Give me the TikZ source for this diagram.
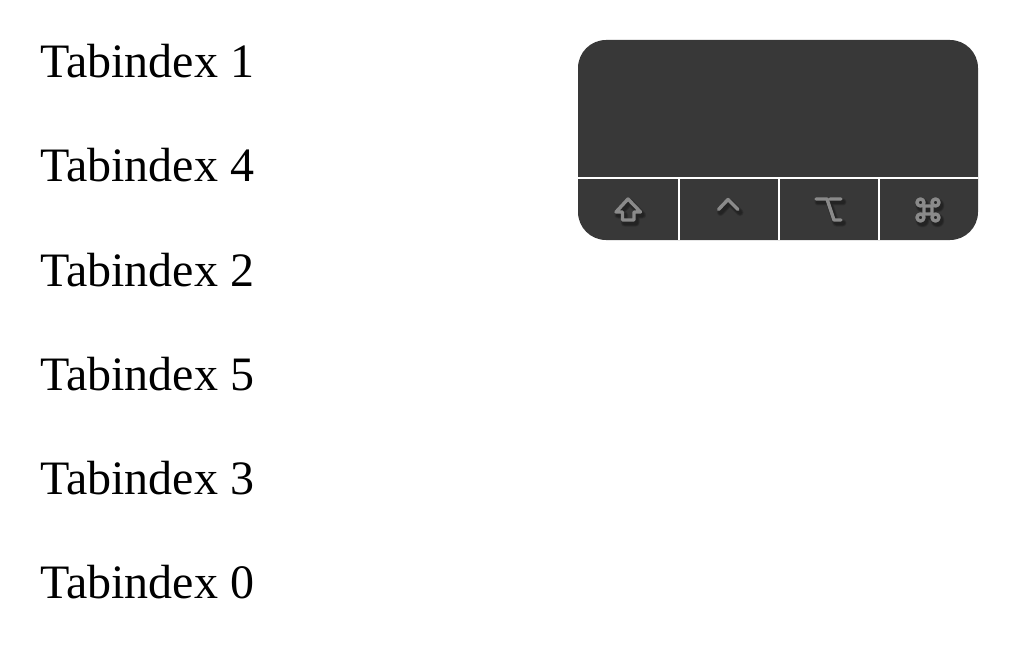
\documentclass[tikz,border=0pt]{standalone}
\usepackage{fontspec}
\setmainfont{Liberation Serif}
\definecolor{padgray}{HTML}{383838}
\definecolor{icongray}{HTML}{8A8A8A}
\tikzset{
  tablabel/.style={anchor=base west,inner sep=0pt,font=\fontsize{48pt}{52pt}\selectfont},
  icon/.style={draw=icongray,line width=3.4pt,line join=round,line cap=round},
  iconshadow/.style={draw=black,opacity=0.14,line width=#1,line join=round,line cap=round,shift={(2,3)}},
  divider/.style={draw=white,line width=2pt}
}
\begin{document}
\begin{tikzpicture}[x=1pt,y=-1pt]
  \useasboundingbox (0,0) rectangle (1018,666);
  \def\shiftpath{(628,199) -- (616,212) -- (622.5,212) -- (622.5,220) -- (634,220) -- (634,212) -- (640.5,212) -- cycle}
  \def\caretpath{(718.5,209.5) -- (728,199.5) -- (738,209.5)}
  \def\optionpath{(816,199) -- (827,199) -- (834,220) -- (841,220) (830,199) -- (841,199)}
  \def\cmdpath{(924,206) rectangle (932,214)
    (920.5,202.5) circle(3.5) (935.5,202.5) circle(3.5)
    (920.5,217.5) circle(3.5) (935.5,217.5) circle(3.5)}
  \foreach \y/\n [count=\i] in {78/1,182/4,286/2,390/5,494/3,598/0}
    \node[tablabel] (tab\i) at (40,\y) {Tabindex \n};
  % pad
  \fill[padgray,rounded corners=28pt] (578,40) rectangle (978,240);
  \draw[divider] (578,178.5) coordinate (lineL) -- (978,178.5) coordinate (lineR);
  \foreach \x in {679,779,879}
    \draw[divider] (\x,178.5) -- (\x,240);
  % icons
  \foreach \p in {\shiftpath,\caretpath,\optionpath,\cmdpath}{
    \foreach \w in {7pt,5.5pt,4pt}
      \draw[iconshadow=\w] \p;
    \draw[icon] \p;
  }
\end{tikzpicture}
\end{document}
